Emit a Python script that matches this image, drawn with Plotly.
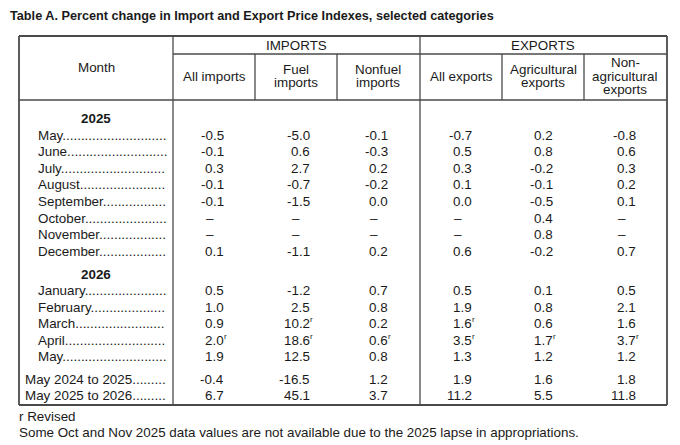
import plotly.graph_objects as go

title = "Table A. Percent change in Import and Export Price Indexes, selected categories"

months_2025 = ["May", "June", "July", "August", "September", "October", "November", "December"]
months_2026 = ["January", "February", "March", "April", "May"]
summary_rows = ["May 2024 to 2025", "May 2025 to 2026"]

all_imports = [-0.5, -0.1, 0.3, -0.1, -0.1, None, None, 0.1, 0.5, 1.0, 0.9, 2.0, 1.9, -0.4, 6.7]
fuel_imports = [-5.0, 0.6, 2.7, -0.7, -1.5, None, None, -1.1, -1.2, 2.5, 10.2, 18.6, 12.5, -16.5, 45.1]
nonfuel_imports = [-0.1, -0.3, 0.2, -0.2, 0.0, None, None, 0.2, 0.7, 0.8, 0.2, 0.6, 0.8, 1.2, 3.7]
all_exports = [-0.7, 0.5, 0.3, 0.1, 0.0, None, None, 0.6, 0.5, 1.9, 1.6, 3.5, 1.3, 1.9, 11.2]
ag_exports = [0.2, 0.8, -0.2, -0.1, -0.5, 0.4, 0.8, -0.2, 0.1, 0.8, 0.6, 1.7, 1.2, 1.6, 5.5]
nonag_exports = [-0.8, 0.6, 0.3, 0.2, 0.1, None, None, 0.7, 0.5, 2.1, 1.6, 3.7, 1.2, 1.8, 11.8]

# row indexes (into the 15 rows) that carry the "r" revised mark
revised = {
    "all_imports": [11],
    "fuel_imports": [10, 11],
    "nonfuel_imports": [11],
    "all_exports": [10, 11],
    "ag_exports": [11],
    "nonag_exports": [11],
}

group_heads = ["IMPORTS", "EXPORTS"]
col_heads = [
    ["All imports"],
    ["Fuel", "imports"],
    ["Nonfuel", "imports"],
    ["All exports"],
    ["Agricultural", "exports"],
    ["Non-", "agricultural", "exports"],
]

footnotes = [
    "r Revised",
    "Some Oct and Nov 2025 data values are not available due to the 2025 lapse in appropriations.",
]

FONT = "Liberation Sans, Arial, sans-serif"
FS = 13.4
INK = "#1a1a1a"
RULE = "#4a4a4a"

# Arial advance widths (per 1000 em), for the dot leaders
widths = {" ": 278, ".": 278, "A": 667, "D": 722, "F": 611, "J": 500, "M": 833,
          "N": 722, "O": 778, "S": 667, "a": 556, "b": 556, "c": 500, "e": 556,
          "g": 556, "h": 556, "i": 222, "l": 222, "m": 833, "n": 556, "o": 556,
          "p": 556, "r": 333, "s": 500, "t": 278, "u": 556, "v": 500, "y": 500}


def text_w(s):
    return sum(widths.get(ch, 556) for ch in s) * FS / 1000


def leader(label, x0, x1=168):
    n = int((x1 - x0 - text_w(label)) / (278 * FS / 1000))
    return label + "." * max(n, 0)


fig = go.Figure()
ann = []


def put(x, y, text, anchor="center", size=FS, bold=False):
    if bold:
        text = "<b>" + text + "</b>"
    ann.append(dict(x=x, y=y, text=text, xref="x", yref="y", showarrow=False,
                    xanchor=anchor, yanchor="middle", borderpad=0, borderwidth=0,
                    font=dict(family=FONT, size=size, color=INK)))


def line(x0, y0, x1, y1, w=1.3):
    fig.add_shape(type="line", x0=x0, y0=y0, x1=x1, y1=y1, xref="x", yref="y",
                  line=dict(color=RULE, width=w))


# table frame
left, right, top, bottom = 19, 667, 36, 405
col_month, col_split = 173, 420
line(left, top, right, top, 1.8)
line(left, bottom, right, bottom, 1.8)
line(left, top, left, bottom, 1.8)
line(right, top, right, bottom, 1.8)
line(col_month, top, col_month, bottom)
line(col_split, top, col_split, bottom)
line(col_month, 54, right, 54)
line(left, 100, right, 100)
for xv in [255, 337, 502, 584]:
    line(xv, 54, xv, 100)

# title and header
put(10, 16, title, anchor="left", size=12.7, bold=True)
put(96, 67, "Month")
put(296, 45, group_heads[0])
put(543, 45, group_heads[1])
col_centers = [214, 296, 378, 461, 543, 625]
for xc, head in zip(col_centers, col_heads):
    y0 = 76 - 6.85 * (len(head) - 1)
    for k, part in enumerate(head):
        put(xc, y0 + 13.7 * k, part)

# body rows
row_y = [135 + 16.6 * i for i in range(len(months_2025))]
row_y += [290.7 + 16.5 * i for i in range(len(months_2026))]
row_y += [379.3, 395.7]

put(96, 118.3, "2025", bold=True)
put(96, 274.3, "2026", bold=True)

labels = months_2025 + months_2026 + summary_rows
for i, lab in enumerate(labels):
    x0 = 25 if lab in summary_rows else 38
    put(x0, row_y[i], leader(lab, x0), anchor="left")

columns = [
    ("all_imports", all_imports, 224),
    ("fuel_imports", fuel_imports, 310),
    ("nonfuel_imports", nonfuel_imports, 388),
    ("all_exports", all_exports, 472),
    ("ag_exports", ag_exports, 553),
    ("nonag_exports", nonag_exports, 636),
]
for key, vals, xr in columns:
    for i, v in enumerate(vals):
        if v is None:
            put(xr - 14, row_y[i], "–")
            continue
        put(xr, row_y[i], f"{v:.1f}", anchor="right")
        if i in revised[key]:
            put(xr, row_y[i] - 4, "r", anchor="left", size=8)

# footnotes
put(19, 416.7, footnotes[0], anchor="left")
put(19, 432.3, footnotes[1], anchor="left")

fig.update_layout(
    width=680,
    height=445,
    margin=dict(l=0, r=0, t=0, b=0),
    paper_bgcolor="white",
    plot_bgcolor="white",
    showlegend=False,
    annotations=ann,
    xaxis=dict(range=[0, 680], visible=False, fixedrange=True),
    yaxis=dict(range=[445, 0], visible=False, fixedrange=True),
)

fig.write_html("out.html", config={"displayModeBar": False},
               post_script="document.body.style.margin='0';")
